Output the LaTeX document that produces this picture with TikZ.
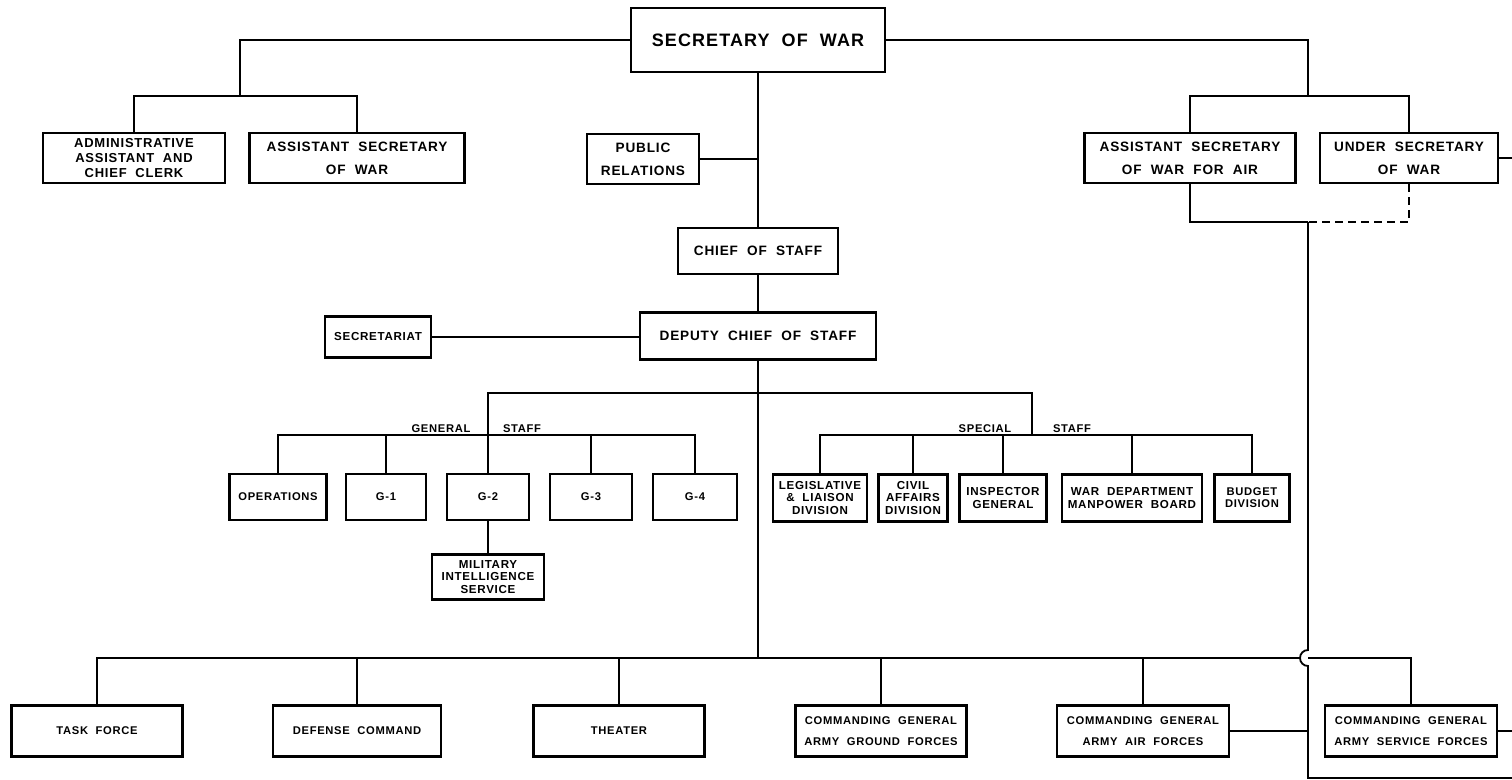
\documentclass[tikz,border=0pt]{standalone}
\usepackage{fontspec}
\setmainfont{Liberation Sans}[LetterSpace=6, WordSpace=2]
\usetikzlibrary{calc}
\tikzset{
  line/.style={draw=black, line width=0.9pt},
  dashedline/.style={draw=black, line width=0.9pt, dash pattern=on 4pt off 2.5pt},
  unit/.style={draw=black, line width=1.2pt, fill=white, align=center, inner sep=0pt},
  boxsize/.style 2 args={minimum width=#1*0.5pt, minimum height=#2*0.5pt},
  big/.style={font=\fontsize{9}{11}\selectfont\bfseries},
  mid/.style={font=\fontsize{6.8}{11.5}\selectfont\bfseries},
  sml/.style={font=\fontsize{5.6}{10.5}\selectfont\bfseries},
  tight/.style={font=\fontsize{5.8}{6.3}\selectfont\bfseries},
  lbl/.style={font=\fontsize{5.6}{6}\selectfont\bfseries, inner sep=0pt, anchor=base}
}
\begin{document}
\begin{tikzpicture}[x=0.5pt, y=-0.5pt]
  \useasboundingbox (0,0) rectangle (1512,780);

  % secretary and assistants
  \node[unit, big, boxsize={254}{64}] (sow) at (758,40) {SECRETARY OF WAR};
  \node[unit, boxsize={182}{50}, font=\fontsize{6.5}{7.5}\selectfont\bfseries] (admin) at (134,158) {ADMINISTRATIVE\\ASSISTANT AND\\CHIEF CLERK};
  \node[unit, mid, boxsize={215}{50}] (asw) at (357,158) {ASSISTANT SECRETARY\\OF WAR};
  \node[unit, mid, boxsize={211}{50}] (aswair) at (1190,158) {ASSISTANT SECRETARY\\OF WAR FOR AIR};
  \node[unit, mid, boxsize={178}{50}] (usw) at (1409,158) {UNDER SECRETARY\\OF WAR};
  \node[unit, mid, boxsize={112}{50}] (pr) at (643,159) {PUBLIC\\RELATIONS};

  % staff chiefs
  \node[unit, mid, boxsize={160}{46}] (cos) at (758,251) {CHIEF OF STAFF};
  \node[unit, mid, boxsize={236}{47}] (dcos) at (758,336) {DEPUTY CHIEF OF STAFF};
  \node[unit, tight, boxsize={106}{41}] (secr) at (378,337) {SECRETARIAT};

  % general staff
  \node[unit, sml, boxsize={97}{46}] (ops) at (278,497) {OPERATIONS};
  \node[unit, sml, boxsize={80}{46}] (g1) at (386,497) {G-1};
  \node[unit, sml, boxsize={82}{46}] (g2) at (488,497) {G-2};
  \node[unit, sml, boxsize={82}{46}] (g3) at (591,497) {G-3};
  \node[unit, sml, boxsize={84}{46}] (g4) at (695,497) {G-4};
  \node[unit, tight, boxsize={112}{45}] (mis) at (488,577) {MILITARY\\INTELLIGENCE\\SERVICE};

  % special staff
  \node[unit, tight, boxsize={94}{47}] (leg) at (820,498) {LEGISLATIVE\\\& LIAISON\\DIVISION};
  \node[unit, tight, boxsize={69}{47}] (civ) at (913,498) {CIVIL\\AFFAIRS\\DIVISION};
  \node[unit, boxsize={87}{47}, font=\fontsize{5.8}{6.6}\selectfont\bfseries] (insp) at (1003,498) {INSPECTOR\\GENERAL};
  \node[unit, boxsize={140}{47}, font=\fontsize{5.8}{6.6}\selectfont\bfseries] (wdmb) at (1132,498) {WAR DEPARTMENT\\MANPOWER BOARD};
  \node[unit, boxsize={75}{47}, font=\fontsize{5.6}{6}\selectfont\bfseries] (bud) at (1252,498) {BUDGET\\DIVISION};

  \node[lbl] (gen) at (441,433) {GENERAL};
  \node[lbl] (genstaff) at (522,433) {STAFF};
  \node[lbl] (spec) at (985,433) {SPECIAL};
  \node[lbl] (specstaff) at (1072,433) {STAFF};

  % commands
  \node[unit, sml, boxsize={171}{51}] (tf) at (97,731) {TASK FORCE};
  \node[unit, sml, boxsize={168}{51}] (dc) at (357,731) {DEFENSE COMMAND};
  \node[unit, sml, boxsize={171}{51}] (th) at (619,731) {THEATER};
  \node[unit, sml, boxsize={171}{51}] (agf) at (881,731) {COMMANDING GENERAL\\ARMY GROUND FORCES};
  \node[unit, sml, boxsize={172}{51}] (aaf) at (1143,731) {COMMANDING GENERAL\\ARMY AIR FORCES};
  \node[unit, sml, boxsize={172}{51}] (asf) at (1411,731) {COMMANDING GENERAL\\ARMY SERVICE FORCES};

  \coordinate (lbus) at (240,96);
  \coordinate (rbus) at (1308,96);
  \coordinate (rjoin) at (1308,222);
  \coordinate (jmp) at (1308,658);
  \coordinate (bbus) at (758,658);
  \coordinate (sbus) at (758,393);
  \coordinate (gbus) at (488,435);
  \coordinate (spbus) at (1032,435);
  \coordinate (rim) at (1512,0);
  \coordinate (lowcorner) at (1308,778);
  \coordinate (lowend) at (1512,778);

  \draw[line] (sow.west) -| (lbus);
  \draw[line] (admin.north) |- (lbus) -| (asw.north);
  \draw[line] (sow.east) -| (rbus);
  \draw[line] (aswair.north) |- (rbus) -| (usw.north);
  \draw[line] (usw.east) -- (usw.east -| rim);
  \draw[line] (aswair.south) |- (rjoin);
  \draw[dashedline] (usw.south) |- (rjoin);
  \draw[line] (rjoin) -- ([yshift=4pt]jmp) arc[start angle=90, end angle=270, radius=4pt] -- (lowcorner) -- (lowend);

  \draw[line] (sow.south) -- (cos.north);
  \draw[line] (pr.east) -- (pr.east -| sow.south);
  \draw[line] (cos.south) -- (dcos.north);
  \draw[line] (secr.east) -- (secr.east -| dcos.west);
  \draw[line] (dcos.south) -- (bbus);

  \draw[line] (g2.north) |- (sbus) -| (spbus);
  \draw[line] (ops.north) |- (gbus) -| (g4.north);
  \foreach \u in {g1,g3} \draw[line] (\u.north) -- (\u.north |- gbus);
  \draw[line] (g2.south) -- (mis.north);
  \draw[line] (leg.north) |- (spbus) -| (bud.north);
  \foreach \u in {civ,insp,wdmb} \draw[line] (\u.north) -- (\u.north |- spbus);

  \draw[line] (tf.north) |- ([xshift=-4pt]jmp);
  \foreach \u in {dc,th,agf,aaf} \draw[line] (\u.north) -- (\u.north |- bbus);
  \draw[line] (asf.north) |- (jmp);
  \draw[line] (aaf.east) -- (aaf.east -| rjoin);
  \draw[line] (asf.east) -- (asf.east -| rim);
\end{tikzpicture}
\end{document}
